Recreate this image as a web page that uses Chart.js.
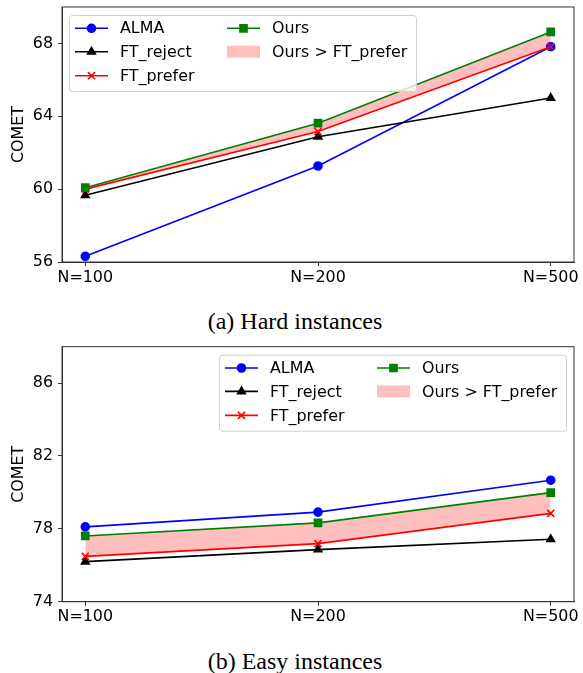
<!DOCTYPE html>
<html>
<head>
<meta charset="utf-8">
<script src="https://cdn.jsdelivr.net/npm/chart.js@4.4.0/dist/chart.umd.min.js"></script>
<style>
  body { margin: 0; background: #fff; width: 583px; height: 673px; position: relative; overflow: hidden; }
  .box { position: absolute; left: 0; width: 583px; height: 300px; }
  .cap { position: absolute; left: 0; width: 590px; text-align: center; font-family: "Liberation Serif", "Times New Roman", serif; font-size: 24px; line-height: 24px; color: #000; }
</style>
</head>
<body>
<div class="box" style="top:0"><canvas id="hard" width="583" height="300"></canvas></div>
<div class="cap" style="top:309px">(a) Hard instances</div>
<div class="box" style="top:340px"><canvas id="easy" width="583" height="300"></canvas></div>
<div class="cap" style="top:649px">(b) Easy instances</div>
<script>
// x categories
var categories = ['N=100', 'N=200', 'N=500'];

// hard instances
var hardAlma = [56.31, 61.27, 67.82];
var hardReject = [59.66, 62.88, 65.0];
var hardPrefer = [60.0, 63.16, 67.82];
var hardOurs = [60.08, 63.62, 68.63];
var hardTicks = [56, 60, 64, 68];

// easy instances
var easyAlma = [78.11, 78.92, 80.67];
var easyReject = [76.2, 76.86, 77.43];
var easyPrefer = [76.49, 77.19, 78.85];
var easyOurs = [77.61, 78.33, 79.99];
var easyTicks = [74, 78, 82, 86];

var FONT = '"DejaVu Sans", sans-serif';
var FS = 15.9;
Chart.defaults.color = '#000';
Chart.defaults.font.family = FONT;
Chart.defaults.font.size = FS;

function pts(arr) {
    return arr.map(function (v, i) { return { x: i, y: v }; });
}

function line(label, arr, color, style, r, order) {
    return {
        label: label, data: pts(arr), borderColor: color, backgroundColor: color,
        borderWidth: 1.6, pointStyle: style, pointRadius: r, pointHoverRadius: r,
        pointBorderWidth: 1.6, fill: false, order: order, tension: 0
    };
}

// frame around the plot area (matplotlib spines)
var framePlugin = {
    id: 'frame',
    afterDraw: function (chart) {
        var a = chart.chartArea, ctx = chart.ctx;
        ctx.save();
        ctx.strokeStyle = '#333';
        ctx.lineWidth = 1;
        ctx.strokeRect(a.left, a.top, a.right - a.left, a.bottom - a.top);
        ctx.restore();
    }
};

// two-column legend like matplotlib's
var legendPlugin = {
    id: 'mplLegend',
    afterDraw: function (chart, args, opts) {
        var ctx = chart.ctx, a = chart.chartArea;
        var w = 347, h = 76;
        var left = opts.side === 'left' ? a.left + 7 : a.right - 8 - w;
        var top = a.top + 8;
        ctx.save();
        ctx.fillStyle = 'rgba(255,255,255,0.8)';
        ctx.strokeStyle = '#d0d0d0';
        ctx.lineWidth = 1;
        ctx.beginPath();
        ctx.roundRect(left + 0.5, top + 0.5, w, h, 3);
        ctx.fill();
        ctx.stroke();
        var ds = chart.data.datasets;
        var slots = [[6, 13.3], [6, 36.7], [6, 60.7], [158, 13.3], [158, 36.7]];
        ctx.font = FS + 'px ' + FONT;
        ctx.textBaseline = 'middle';
        ds.forEach(function (d, i) {
            var sx = left + slots[i][0], sy = top + slots[i][1];
            if (d.isFill) {
                ctx.fillStyle = d.backgroundColor;
                ctx.fillRect(sx, sy - 6, 33, 12);
            } else {
                ctx.strokeStyle = d.borderColor;
                ctx.lineWidth = 1.6;
                ctx.beginPath();
                ctx.moveTo(sx, sy);
                ctx.lineTo(sx + 33, sy);
                ctx.stroke();
                ctx.fillStyle = d.backgroundColor;
                Chart.helpers.drawPoint(ctx, {
                    pointStyle: d.pointStyle, radius: d.pointRadius, borderWidth: 1.6, rotation: 0
                }, sx + 16.5, sy);
                ctx.fill();
            }
            ctx.fillStyle = '#000';
            ctx.fillText(d.label, sx + 45, sy + 1);
        });
        ctx.restore();
    }
};

function noPad(s) {
    s.paddingTop = 0; s.paddingBottom = 0; s.paddingLeft = 0; s.paddingRight = 0;
}

function makeChart(id, alma, reject, prefer, ours, yMin, yMax, yTicks, side, padTop) {
    var fillSet = {
        label: 'Ours > FT_prefer', isFill: true, data: pts(ours),
        borderWidth: 0, pointRadius: 0, borderColor: 'rgba(0,0,0,0)',
        backgroundColor: 'rgba(255,0,0,0.25)',
        fill: { target: 2, above: 'rgba(255,0,0,0.25)', below: 'rgba(0,0,0,0)' },
        order: 5
    };
    var datasets = [
        line('ALMA', alma, '#0000ff', 'circle', 4, 4),
        line('FT_reject', reject, '#000000', 'triangle', 4.4, 3),
        line('FT_prefer', prefer, '#ff0000', 'crossRot', 5, 2),
        line('Ours', ours, '#008000', 'rect', 5, 1),
        fillSet
    ];
    return new Chart(document.getElementById(id), {
        type: 'line',
        data: { datasets: datasets },
        options: {
            responsive: false,
            animation: false,
            layout: { padding: { top: padTop, right: 9, left: 0, bottom: 0 } },
            plugins: {
                legend: { display: false },
                tooltip: { enabled: false },
                filler: { drawTime: 'beforeDatasetsDraw' },
                mplLegend: { side: side }
            },
            scales: {
                x: {
                    type: 'linear', min: -0.1, max: 2.1,
                    afterBuildTicks: function (s) {
                        s.ticks = categories.map(function (c, i) { return { value: i }; });
                    },
                    afterFit: function (s) { s.height = 300 - padTop - 255; noPad(s); },
                    ticks: {
                        padding: 2, maxRotation: 0, autoSkip: false,
                        callback: function (v) { return categories[v]; }
                    },
                    grid: { drawOnChartArea: false, drawTicks: true, tickLength: 4, color: '#333' },
                    border: { display: true, color: '#333' }
                },
                y: {
                    type: 'linear', min: yMin, max: yMax,
                    afterBuildTicks: function (s) {
                        s.ticks = yTicks.map(function (v) { return { value: v }; });
                    },
                    afterFit: function (s) { s.width = 62; noPad(s); },
                    ticks: { padding: 5 },
                    grid: { drawOnChartArea: false, drawTicks: true, tickLength: 4, color: '#333' },
                    border: { display: true, color: '#333' },
                    title: { display: true, text: 'COMET', padding: { top: 9, bottom: 0 }, font: { size: FS } }
                }
            }
        },
        plugins: [framePlugin, legendPlugin]
    });
}

makeChart('hard', hardAlma, hardReject, hardPrefer, hardOurs, 56, 70, hardTicks, 'left', 7);
makeChart('easy', easyAlma, easyReject, easyPrefer, easyOurs, 74, 88, easyTicks, 'right', 6.7);
</script>
</body>
</html>
